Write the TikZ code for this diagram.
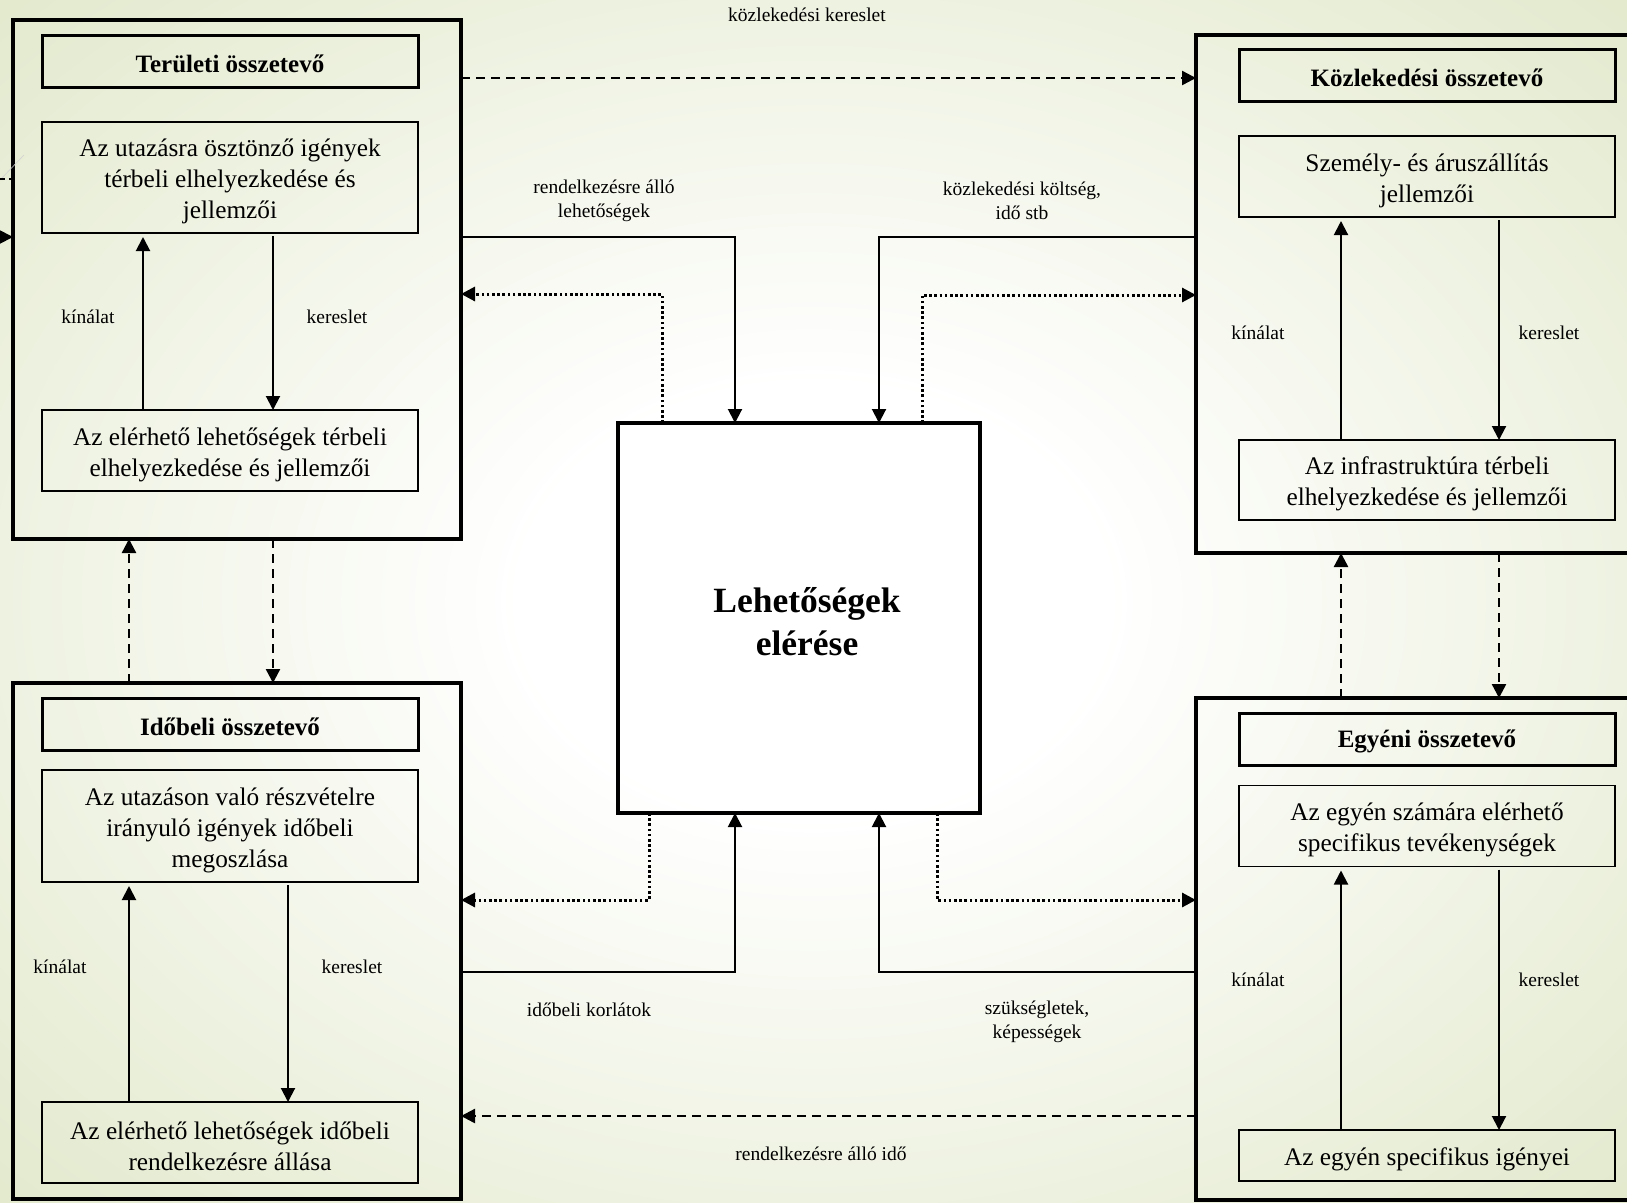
\documentclass[tikz,border=0pt]{standalone}
\usepackage{fontspec}
\setmainfont{Liberation Serif}
\usetikzlibrary{arrows.meta,calc}
\definecolor{bggreen}{RGB}{226,233,204}
\pgfdeclareradialshading{bgshade}{\pgfpoint{0bp}{0bp}}{color(0bp)=(white); color(9bp)=(white); color(36bp)=(bggreen)}
\begin{document}
\begin{tikzpicture}[x=1pt,y=-1pt,
  outerbox/.style={draw, line width=3.2pt, inner sep=0pt, outer sep=0pt, minimum width=448pt},
  titlebox/.style={draw, line width=3pt, inner sep=0pt, outer sep=0pt, minimum width=376pt, minimum height=52pt},
  titletext/.style={font=\fontsize{25}{31}\selectfont\bfseries, inner sep=0pt, yshift=-2.5pt},
  innerbox/.style={draw, line width=1.6pt, inner sep=0pt, outer sep=0pt, minimum width=376pt},
  boxtext/.style={align=center, font=\fontsize{25.3}{31}\selectfont, inner sep=0pt, yshift=-4pt},
  lbl/.style={font=\fontsize{19.5}{23.5}\selectfont, align=center, inner sep=0pt},
  flow/.style={line width=2pt, -{Triangle[length=14pt,width=14pt]}},
  dashflow/.style={line width=2.4pt, dash pattern=on 9pt off 6pt, -{Triangle[length=14pt,width=14pt]}},
  dotflow/.style={line width=3pt, dash pattern=on 2.6pt off 2.6pt, -{Triangle[length=14pt,width=14pt]}}
]
\useasboundingbox (0,0) rectangle (1627,1202);
\clip (0,0) rectangle (1627,1202);
\shade[shading=bgshade] (0,0) rectangle (1627,1202);

% outer boxes
\node[outerbox, minimum height=519pt] (A) at (237,279.5) {};
\node[outerbox, minimum height=516pt] (C) at (237,941) {};
\node[outerbox, minimum height=518pt] (B) at (1420,294) {};
\node[outerbox, minimum height=502pt] (D) at (1420,949) {};
\node[draw, line width=3.4pt, inner sep=0pt, outer sep=0pt, minimum width=362pt, minimum height=390pt] (E) at (799,618) {};
\node[font=\fontsize{35.5}{43}\selectfont\bfseries, align=center, inner sep=0pt] (Etext) at (807,622) {Lehetőségek\\elérése};

% Területi
\node[titlebox, label={[titletext]center:Területi összetevő}] (At) at (230,61) {};
\node[innerbox, minimum height=111pt, label={[boxtext]center:{Az utazásra ösztönző igények\\térbeli elhelyezkedése és\\jellemzői}}] (A1) at (230,177.5) {};
\node[innerbox, minimum height=81pt, label={[boxtext]center:{Az elérhető lehetőségek térbeli\\elhelyezkedése és jellemzői}}] (A2) at (230,450.5) {};
\draw[flow, shorten >=4pt] (A2.north -| 143,0) -- (A1.south -| 143,0);
\draw[flow, shorten <=3pt] (A1.south -| 273,0) -- (A2.north -| 273,0);
\node[lbl] (Ak) at (88,317) {kínálat};
\node[lbl] (Ar) at (337,317) {kereslet};

% Időbeli
\node[titlebox, label={[titletext]center:Időbeli összetevő}] (Ct) at (230,724) {};
\node[innerbox, minimum height=112pt, label={[boxtext]center:{Az utazáson való részvételre\\irányuló igények időbeli\\megoszlása}}] (C1) at (230,826) {};
\node[innerbox, minimum height=81pt, label={[boxtext]center:{Az elérhető lehetőségek időbeli\\rendelkezésre állása}}] (C2) at (230,1142.5) {};
\draw[flow, shorten >=4pt] (C2.north -| 129,0) -- (C1.south -| 129,0);
\draw[flow, shorten <=3pt] (C1.south -| 288,0) -- (C2.north -| 288,0);
\node[lbl] (Ck) at (60,967) {kínálat};
\node[lbl] (Cr) at (352,967) {kereslet};

% Közlekedési
\node[titlebox, label={[titletext]center:Közlekedési összetevő}] (Bt) at (1427,75) {};
\node[innerbox, minimum height=81pt, label={[boxtext]center:{Személy- és áruszállítás\\jellemzői}}] (B1) at (1427,176.5) {};
\node[innerbox, minimum height=80pt, label={[boxtext]center:{Az infrastruktúra térbeli\\elhelyezkedése és jellemzői}}] (B2) at (1427,480) {};
\draw[flow, shorten >=4pt] (B2.north -| 1341,0) -- (B1.south -| 1341,0);
\draw[flow, shorten <=3pt] (B1.south -| 1499,0) -- (B2.north -| 1499,0);
\node[lbl] (Bk) at (1258,333) {kínálat};
\node[lbl] (Br) at (1549,333) {kereslet};

% Egyéni
\node[titlebox, label={[titletext]center:Egyéni összetevő}] (Dt) at (1427,739) {};
\node[innerbox, minimum height=81pt, label={[boxtext]center:{Az egyén számára elérhető\\specifikus tevékenységek}}] (D1) at (1427,826) {};
\node[innerbox, minimum height=51pt, label={[boxtext]center:{Az egyén specifikus igényei}}] (D2) at (1427,1155.5) {};
\draw[flow, shorten >=4pt] (D2.north -| 1341,0) -- (D1.south -| 1341,0);
\draw[flow, shorten <=3pt] (D1.south -| 1499,0) -- (D2.north -| 1499,0);
\node[lbl] (Dk) at (1258,980) {kínálat};
\node[lbl] (Dr) at (1549,980) {kereslet};

% vertical dashed links
\draw[dashflow] (C.north -| 129,0) -- (A.south -| 129,0);
\draw[dashflow] (A.south -| 273,0) -- (C.north -| 273,0);
\draw[dashflow] (D.north -| 1341,0) -- (B.south -| 1341,0);
\draw[dashflow] (B.south -| 1499,0) -- (D.north -| 1499,0);

% horizontal dashed links
\draw[dashflow] (A.east |- 0,78) -- (B.west |- 0,78);
\node[lbl] (L1) at (807,15) {közlekedési kereslet};
\draw[dashflow] (D.west |- 0,1116) -- (C.east |- 0,1116);
\node[lbl] (L6) at (821,1154) {rendelkezésre álló idő};

% links with the centre box
\draw[flow] (A.east |- 0,237) -| (E.north -| 735,0);
\draw[dotflow] (E.north -| 662,0) |- (A.east |- 0,294);
\node[lbl] (L2) at (604,201) {rendelkezésre álló\\lehetőségek};
\draw[flow] (B.west |- 0,237) -| (E.north -| 879,0);
\draw[dotflow] (E.north -| 922,0) |- (B.west |- 0,295);
\node[lbl] (L3) at (1022,201) {közlekedési költség,\\idő stb};
\draw[dotflow] (E.south -| 649,0) |- (C.east |- 0,900);
\draw[flow] (C.east |- 0,972) -| (E.south -| 735,0);
\node[lbl] (L4) at (589,1010) {időbeli korlátok};
\draw[flow] (D.west |- 0,972) -| (E.south -| 879,0);
\draw[dotflow] (E.south -| 937,0) |- (D.west |- 0,900);
\node[lbl] (L5) at (1037,1022) {szükségletek,\\képességek};

% stubs entering from the left edge
\coordinate (ext1) at (0,179);
\coordinate (ext2) at (0,237);
\draw[gray!35, line width=0.6pt] (0,180) -- (24,155);
\draw[line width=2.4pt, dash pattern=on 5pt off 4pt] (ext1) -- (A.west |- ext1);
\draw[flow] (ext2) -- (A.west |- ext2);
\end{tikzpicture}
\end{document}
